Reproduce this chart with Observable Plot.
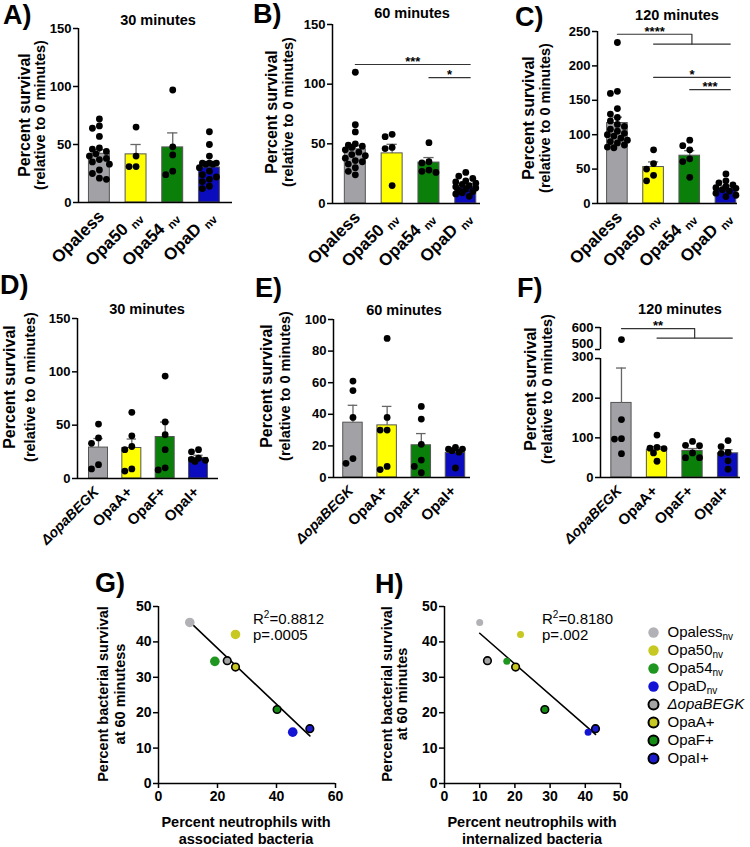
<!DOCTYPE html>
<html><head><meta charset="utf-8">
<script src="https://cdn.jsdelivr.net/npm/d3@7"></script>
<script src="https://cdn.jsdelivr.net/npm/@observablehq/plot@0.6"></script>
<style>
body{margin:0;background:#fff;}
#fig{position:relative;width:750px;height:847px;overflow:hidden;background:#fff;font-family:"Liberation Sans",Arial,sans-serif;color:#000;}
.abs{position:absolute;white-space:nowrap;line-height:1;}
</style></head><body><div id="fig"></div>
<script>
// ---------------- DATA ----------------
const topCats = ["Opaless", "Opa50 nv", "Opa54 nv", "OpaD nv"];
const bottomCats = ["ΔopaBEGK", "OpaA+", "OpaF+", "OpaI+"];

// Panel A (30 min)
const meanA = [42, 41.5, 47.5, 30.2];
const semA = [3.5, 8.5, 12.5, 3.3];
const dotsA = [
  [72, 66, 64, 57, 47, 46, 44, 42, 40, 38, 37, 35, 33, 28, 25, 21, 20],
  [65, 40, 31, 31],
  [97, 48, 41, 27, 24],
  [61, 50, 40, 34, 34, 34, 33, 33, 30, 27, 24, 22, 20, 18, 14, 12]
];
// Panel B (60 min)
const meanB = [45.4, 42, 34.3, 13.5];
const semB = [3.1, 7.6, 4.2, 1.5];
const dotsB = [
  [110, 66, 60, 50, 49, 48, 47, 45, 43, 41, 40, 38, 36, 35, 33, 30, 27, 24],
  [58, 56, 47, 46, 15],
  [51, 35, 34, 28, 27, 26],
  [26, 23, 21, 19, 18, 17, 16, 15, 14, 13, 12, 11, 10, 9, 8, 6]
];
const pairsB = [{a: 0, b: 3, y: 116.5, label: "***"}, {a: 2, b: 3, y: 105.4, label: "*"}];
// Panel C (120 min)
const meanC = [117, 53, 69.5, 21.7];
const semC = [8.5, 7.4, 7.3, 4];
const dotsC = [
  [234, 163, 160, 138, 130, 125, 120, 115, 112, 108, 105, 102, 100, 98, 95, 92, 90, 88, 85, 82, 81],
  [78, 58, 50, 41, 33],
  [92, 84, 78, 65, 61, 38],
  [43, 33, 30, 27, 25, 23, 22, 20, 18, 15, 12, 10]
];
const pairsC = [{a: 1, b: 3, y: 183.4, label: "*"}, {a: 2, b: 3, y: 165.5, label: "***"}];
const groupsC = [{a: 0, b1: 1, b2: 3, y: 246, y2: 231.7, label: "****"}];
// Panel D (30 min)
const meanD = [29, 28.6, 38.9, 19.3];
const semD = [8.5, 8.4, 14, 2.5];
const dotsD = [[51, 38, 33, 13, 9], [62, 40, 30, 27, 9, 7], [96, 53, 41, 27, 10, 8], [27, 25, 19, 18, 17, 16]];
// Panel E (60 min)
const meanE = [34.7, 33, 20.4, 15.6];
const semE = [11, 12, 7.4, 2];
const dotsE = [[61, 55, 38, 12, 9], [88, 38, 30, 30, 7, 5], [45, 37, 21, 11, 7, 3], [19, 18, 18, 17, 16, 6]];
// Panel F (120 min, broken axis 300-500)
const meanF = [188, 70, 67, 61];
const semF = [88, 8, 6, 9];
const dotsF = [[545, 146, 98, 97, 60], [107, 76, 74, 73, 62, 41], [91, 81, 80, 62, 50, 50], [93, 78, 63, 61, 42, 21]];
const groupsF = [{a: 0, b1: 1, b2: 3, y: 595, y2: 552, label: "**"}];

// Scatter G / H
const strains = ["Opaless nv", "Opa50 nv", "Opa54 nv", "OpaD nv", "ΔopaBEGK", "OpaA+", "OpaF+", "OpaI+"];
const survival60 = [45.5, 42.1, 34.5, 14.5, 34.7, 32.9, 20.9, 15.5];
const assocPct = [10.6, 26.1, 19.1, 45.5, 23.3, 26.1, 40.2, 51.3];
const internPct = [10.0, 21.6, 17.7, 40.8, 12.2, 20.2, 28.5, 42.9];

// ---------------- STYLE ----------------
const FONT = '"Liberation Sans", Arial, sans-serif';
const barColors = ["#a2a2a6", "#ffff00", "#0a800a", "#0c0cbf"];
const strainColors = ["#b2b2b6", "#c8c822", "#1f961f", "#1414d4", "#a4a4a4", "#c8c822", "#148c14", "#1c1ccc"];
const EXT = 0.12;
const fig = document.getElementById("fig");

// broken-axis mapping for panel F: 0-300 linear, 300-500 compressed gap, 500-600 compressed
function brk(v) {
  if (v <= 300) return v;
  if (v < 500) return 300 + (v - 300) / 200 * 22.7;
  return 322.7 + (v - 500) * 0.555;
}
const ident = v => v;

function addText(html, x, y, o = {}) {
  const d = document.createElement("div");
  d.className = "abs";
  d.innerHTML = html;
  d.style.left = x + "px";
  d.style.top = y + "px";
  d.style.fontSize = (o.size || 14) + "px";
  d.style.fontWeight = o.weight || "bold";
  let tf = o.anchor === "center" ? "translate(-50%,-50%)" : "translate(0,-50%)";
  if (o.rotate) tf = "translate(-50%,-50%) rotate(-90deg)";
  d.style.transform = tf;
  fig.appendChild(d);
}
function place(svg, left, top) {
  svg.style.position = "absolute";
  svg.style.left = left + "px";
  svg.style.top = top + "px";
  fig.appendChild(svg);
}
function fixLabels(svg, names, o) {
  svg.querySelectorAll("text").forEach(t => {
    const s = t.textContent;
    if (!names.includes(s)) return;
    if (s.endsWith(" nv")) {
      t.textContent = s.slice(0, -3) + (o.space ? " " : "");
      const ts = document.createElementNS("http://www.w3.org/2000/svg", "tspan");
      ts.setAttribute("font-size", o.subSize);
      ts.setAttribute("dy", o.subDy);
      ts.textContent = "nv";
      t.appendChild(ts);
    }
    if (s.startsWith("Δ")) {
      t.setAttribute("font-style", "italic");
      if (o.deltaSize) t.setAttribute("font-size", o.deltaSize);
    }
  });
}
function swarm(vals, i, ys, pxPerX) {
  const minD = 6.4;
  const cand = [0, -7, 7, -3.5, 3.5, -10, 10];
  const placed = [];
  return [...vals].sort((a, b) => b - a).map(v => {
    const py = ys(v);
    let best = 0, bestScore = -1;
    for (const c of cand) {
      let md = Infinity;
      for (const p of placed) md = Math.min(md, Math.hypot(c - p.c, py - p.py));
      if (md >= minD) { best = c; break; }
      if (md > bestScore) { bestScore = md; best = c; }
    }
    placed.push({c: best, py});
    return {x: i + best / pxPerX, y: v};
  });
}

function barPanel(cfg) {
  const {cats, means, sems, dots, pairs = [], groups = [], left, top, width, height, m, xDomain, yDomain, yTransform, yTicks, axisSegs, labelSize, deltaSize, labelDx, tickShift} = cfg;
  const [mt, mr, mb, ml] = m;
  const tf = yTransform || ident;
  const lin = d3.scaleLinear().domain([tf(yDomain[0]), tf(yDomain[1])]).range([height - mb, mt]);
  const ys = v => lin(tf(v));
  const pxPerX = (width - ml - mr) / (xDomain[1] - xDomain[0]);
  const bars = cats.map((c, i) => ({i, mean: means[i], top: means[i] + sems[i]}));
  const pts = dots.flatMap((vals, i) => swarm(vals, i, ys, pxPerX));
  const lines = [], labels = [];
  pairs.forEach((p, k) => {
    const end = p.b + EXT;
    lines.push({id: "p" + k, x: p.a, y: p.y}, {id: "p" + k, x: end, y: p.y});
    labels.push({x: (p.a + end) / 2, y: p.y, t: p.label});
  });
  groups.forEach((g, k) => {
    const end = g.b2 + EXT, j = (g.b1 + end) / 2;
    lines.push({id: "g" + k, x: g.a, y: g.y}, {id: "g" + k, x: j, y: g.y}, {id: "g" + k, x: j, y: g.y2});
    lines.push({id: "h" + k, x: g.b1, y: g.y2}, {id: "h" + k, x: end, y: g.y2});
    labels.push({x: (g.a + j) / 2, y: g.y, t: g.label});
  });
  const tickPos = yTicks.map(tf);
  const catRows = cats.map((c, i) => ({i, c}));
  const svg = Plot.plot({
    width, height, marginTop: mt, marginRight: mr, marginBottom: mb, marginLeft: ml,
    style: {fontFamily: FONT, fontWeight: "bold", fontSize: "13px", background: "transparent", overflow: "visible", color: "#000"},
    x: {domain: xDomain},
    y: {domain: [tf(yDomain[0]), tf(yDomain[1])]},
    marks: [
      Plot.rectY(bars, {x1: d => d.i - 0.285, x2: d => d.i + 0.285, y1: () => tf(0), y2: d => tf(d.mean), fill: d => barColors[d.i], stroke: "#555", strokeWidth: 1}),
      Plot.ruleX(bars, {x: "i", y1: d => tf(d.mean), y2: d => tf(d.top), stroke: "#666", strokeWidth: 1.3}),
      Plot.ruleY(bars, {y: d => tf(d.top), x1: d => d.i - 0.14, x2: d => d.i + 0.14, stroke: "#666", strokeWidth: 1.3}),
      Plot.dot(pts, {x: "x", y: d => tf(d.y), r: 3.4, fill: "#000"}),
      Plot.line(lines, {x: "x", y: d => tf(d.y), z: "id", stroke: "#333", strokeWidth: 1.2}),
      Plot.text(labels, {x: "x", y: d => tf(d.y), text: "t", dy: -2.5, fontSize: 13, fontWeight: "bold"}),
      Plot.ruleX(axisSegs, {x: () => xDomain[0], y1: d => tf(d.a), y2: d => tf(d.b), strokeWidth: 1.5}),
      Plot.ruleY([tf(0)], {strokeWidth: 1.5}),
      Plot.axisY({ticks: tickPos, tickFormat: v => yTicks[tickPos.indexOf(v)], tickSize: 5, tickPadding: 2, strokeWidth: 1.5, label: null, fontSize: 13}),
      Plot.axisX({ticks: [], label: null}),
      Plot.text(catRows, {x: "i", y: () => tf(0), text: "c", rotate: -45, textAnchor: "end", dx: labelDx, dy: 11, fontSize: labelSize, fontWeight: "bold"})
    ]
  });
  fixLabels(svg, cats, {subSize: 11.5, subDy: 4, space: true, deltaSize});
  if (tickShift) {
    // separate the tightly stacked tick labels at the axis break
    svg.querySelectorAll("text").forEach(t => {
      const s = t.textContent;
      if (tickShift[s] !== undefined) t.setAttribute("y", (+t.getAttribute("y") || 0) + tickShift[s]);
    });
  }
  place(svg, left, top);
}

function scatterPanel(cfg) {
  const {xs, left, top, width, height, m, xDomain, xTicks, rFill, rOut} = cfg;
  const [mt, mr, mb, ml] = m;
  const pts = strains.map((s, i) => ({i, x: xs[i], y: survival60[i]}));
  const svg = Plot.plot({
    width, height, marginTop: mt, marginRight: mr, marginBottom: mb, marginLeft: ml,
    style: {fontFamily: FONT, fontWeight: "bold", fontSize: "14px", background: "transparent", overflow: "visible", color: "#000"},
    x: {domain: xDomain},
    y: {domain: [0, 50]},
    marks: [
      Plot.linearRegressionY(pts, {x: "x", y: "y", ci: 0, stroke: "#000", strokeWidth: 1.6}),
      Plot.dot(pts.filter(d => d.i < 4), {x: "x", y: "y", r: rFill, fill: d => strainColors[d.i]}),
      Plot.dot(pts.filter(d => d.i >= 4), {x: "x", y: "y", r: rOut, fill: d => strainColors[d.i], stroke: "#000", strokeWidth: 1.6}),
      Plot.ruleX([0], {strokeWidth: 1.5}),
      Plot.ruleY([0], {strokeWidth: 1.5}),
      Plot.axisX({ticks: xTicks, tickSize: 5, tickPadding: 3, strokeWidth: 1.5, label: null, fontSize: 14}),
      Plot.axisY({ticks: [0, 10, 20, 30, 40, 50], tickSize: 5, tickPadding: 2, strokeWidth: 1.5, label: null, fontSize: 14})
    ]
  });
  place(svg, left, top);
}

// ---------------- BAR PANELS ----------------
barPanel({cats: topCats, means: meanA, sems: semA, dots: dotsA, left: 0, top: 0, width: 250, height: 270, m: [28, 18, 68, 78],
  xDomain: [-0.57, 3.63], yDomain: [0, 150], yTicks: [0, 50, 100, 150], axisSegs: [{a: 0, b: 150}], labelSize: 17, labelDx: 2});
barPanel({cats: topCats, means: meanB, sems: semB, dots: dotsB, pairs: pairsB, left: 250, top: 0, width: 250, height: 270, m: [24, 20, 67, 82],
  xDomain: [-0.62, 3.4], yDomain: [0, 150], yTicks: [0, 50, 100, 150], axisSegs: [{a: 0, b: 150}], labelSize: 17, labelDx: 2});
barPanel({cats: topCats, means: meanC, sems: semC, dots: dotsC, pairs: pairsC, groups: groupsC, left: 500, top: 0, width: 250, height: 270, m: [31, 13, 67, 97],
  xDomain: [-0.55, 3.32], yDomain: [0, 250], yTicks: [0, 50, 100, 150, 200, 250], axisSegs: [{a: 0, b: 250}], labelSize: 17, labelDx: 2});
barPanel({cats: bottomCats, means: meanD, sems: semD, dots: dotsD, left: 0, top: 270, width: 250, height: 280, m: [48, 32, 72, 77],
  xDomain: [-0.63, 3.6], yDomain: [0, 150], yTicks: [0, 50, 100, 150], axisSegs: [{a: 0, b: 150}], labelSize: 15, deltaSize: 14, labelDx: -2});
barPanel({cats: bottomCats, means: meanE, sems: semE, dots: dotsE, left: 250, top: 270, width: 250, height: 280, m: [49, 30, 73, 83],
  xDomain: [-0.57, 3.44], yDomain: [0, 100], yTicks: [0, 20, 40, 60, 80, 100], axisSegs: [{a: 0, b: 100}], labelSize: 15, deltaSize: 14, labelDx: -2});
barPanel({cats: bottomCats, means: meanF, sems: semF, dots: dotsF, groups: groupsF, left: 500, top: 270, width: 250, height: 280, m: [57, 10, 73, 100],
  xDomain: [-0.59, 3.35], yDomain: [0, 600], yTransform: brk, yTicks: [0, 100, 200, 300, 500, 600],
  axisSegs: [{a: 0, b: 300}, {a: 500, b: 600}], labelSize: 15, deltaSize: 14, labelDx: -2, tickShift: {"500": -2, "300": 2}});

// ---------------- SCATTER PANELS ----------------
scatterPanel({xs: assocPct, left: 40, top: 560, width: 310, height: 287, m: [46, 15, 64, 118], xDomain: [0, 60], xTicks: [0, 20, 40, 60], rFill: 4.8, rOut: 3.8});
scatterPanel({xs: internPct, left: 360, top: 560, width: 280, height: 287, m: [46, 20, 64, 84], xDomain: [0, 50], xTicks: [0, 10, 20, 30, 40, 50], rFill: 3.5, rOut: 3.8});

// ---------------- LEGEND ----------------
{
  const svg = Plot.plot({
    width: 120, height: 150, margin: 0,
    style: {fontFamily: FONT, fontSize: "15px", background: "transparent", overflow: "visible", color: "#000"},
    y: {type: "point", domain: strains, range: [12, 138], padding: 0, axis: null},
    marks: [
      Plot.dot(strains.slice(0, 4), {y: d => d, frameAnchor: "left", dx: 23, r: 5.2, fill: d => strainColors[strains.indexOf(d)]}),
      Plot.dot(strains.slice(4), {y: d => d, frameAnchor: "left", dx: 23, r: 5, fill: d => strainColors[strains.indexOf(d)], stroke: "#000", strokeWidth: 2}),
      Plot.text(strains, {y: d => d, frameAnchor: "left", dx: 37, text: d => d, textAnchor: "start", fontSize: 15})
    ]
  });
  fixLabels(svg, strains, {subSize: 10, subDy: 3, space: false});
  place(svg, 630, 620);
}

// ---------------- TEXT ----------------
[["A)", 3, 15], ["B)", 253, 14], ["C)", 515, 16.5], ["D)", 0, 285], ["E)", 255, 288], ["F)", 517, 287.5], ["G)", 95, 582.5], ["H)", 375, 583.5]]
  .forEach(([t, x, y]) => addText(t, x, y, {size: 27}));
[["30 minutes", 158, 20], ["60 minutes", 412, 13], ["120 minutes", 677, 15], ["30 minutes", 147, 309], ["60 minutes", 404, 310], ["120 minutes", 680, 309]]
  .forEach(([t, x, y]) => addText(t, x, y, {size: 14.5, anchor: "center"}));
[[25, 40, 115], [272, 288, 112], [529, 545, 118], [10, 30, 387], [267, 285, 386], [531, 547, 389]]
  .forEach(([x1, x2, y]) => {
    addText("Percent survival", x1, y, {size: 16, rotate: true});
    addText("(relative to 0 minutes)", x2, y, {size: 14.5, rotate: true});
  });
addText("Percent bacterial survival", 103, 694, {size: 14.5, rotate: true});
addText("at 60 minutess", 120, 694, {size: 14.5, rotate: true});
addText("Percent bacterial survival", 387, 694, {size: 14.5, rotate: true});
addText("at 60 minutes", 402, 694, {size: 14.5, rotate: true});
addText("Percent neutrophils with", 246, 822, {size: 14.5, anchor: "center"});
addText("associated bacteria", 246, 839, {size: 14.5, anchor: "center"});
addText("Percent neutrophils with", 532, 822, {size: 14.5, anchor: "center"});
addText("internalized bacteria", 532, 839, {size: 14.5, anchor: "center"});
const sup = '<span style="font-size:10px;position:relative;top:-6px">2</span>';
addText("R" + sup + "=0.8812", 253, 618, {size: 15, weight: "normal"});
addText("p=.0005", 253, 634, {size: 15, weight: "normal"});
addText("R" + sup + "=0.8180", 542, 618, {size: 15, weight: "normal"});
addText("p=.002", 542, 634, {size: 15, weight: "normal"});
</script></body></html>
